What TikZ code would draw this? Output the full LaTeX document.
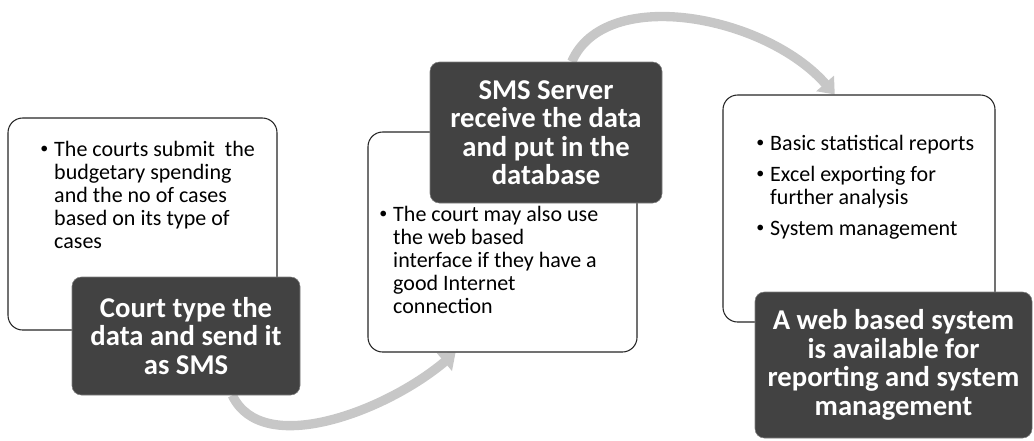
\documentclass[tikz,border=0pt]{standalone}
\usepackage{fontspec}
\setmainfont{Carlito}
\usetikzlibrary{arrows.meta,backgrounds}

\newlength\px
\setlength\px{0.75pt}
\newcommand{\dotmark}{\raisebox{1.6pt}{\fontsize{12}{12}\selectfont\textbullet}}

\begin{document}
\begin{tikzpicture}[x=0.75pt, y=-0.75pt,
    notebox/.style={rectangle, draw=black!85, line width=0.8pt, rounded corners=11pt, fill=white, inner sep=0pt},
    stepbox/.style={rectangle, fill=black!74, draw=black!50, rounded corners=7pt, text=white, align=center, inner sep=0pt, font=\fontsize{21.5}{21.4}\selectfont\bfseries},
    notetext/.style={anchor=base west, inner sep=0pt, font=\fontsize{16.5}{17.25}\selectfont},
    flow/.style={line width=7pt, draw=black!22, -{Triangle[width=17pt,length=11pt]}}]
    \useasboundingbox (0,0) rectangle (1034,440);

    % step 1: the courts
    \node[notebox, minimum width=269*\px, minimum height=212*\px] (courtnote) at (142.5,224) {};
    \node[notetext] (courttext) at (40,156) {\begin{tabular}[t]{@{}l@{\hspace{6\px}}l@{}}
        \dotmark & The courts submit\ \ the\\
        & budgetary spending\\
        & and the no of cases\\
        & based on its type of\\
        & cases
    \end{tabular}};
    \node[stepbox, minimum width=228*\px, minimum height=118*\px] (court) at (186,336) {Court type the\\data and send it\\as SMS};

    % step 2: the sms server
    \node[notebox, minimum width=269*\px, minimum height=220*\px] (servernote) at (502.5,242) {};
    \node[notetext] (servertext) at (379,221) {\begin{tabular}[t]{@{}l@{\hspace{6\px}}l@{}}
        \dotmark & The court may also use\\
        & the web based\\
        & interface if they have a\\
        & good Internet\\
        & connection
    \end{tabular}};
    \node[stepbox, minimum width=232*\px, minimum height=141*\px] (server) at (546,132.5) {SMS Server\\receive the data\\and put in the\\database};

    % step 3: the web system
    \node[notebox, minimum width=272*\px, minimum height=227*\px] (webnote) at (859,208.5) {};
    \node[notetext] (webtext) at (756,150) {\begin{tabular}[t]{@{}l@{\hspace{6\px}}l@{}}
        \dotmark & Basic statistical reports\\[8\px]
        \dotmark & Excel exporting for\\
        & further analysis\\[8\px]
        \dotmark & System management
    \end{tabular}};
    \node[stepbox, minimum width=277*\px, minimum height=146*\px] (web) at (893.5,365) {A web based system\\is available for\\reporting and system\\management};

    \begin{scope}[on background layer]
        \draw[flow] (court.-52) .. controls (262,458) and (385,412) .. (servernote.-113);
        \draw[flow] (server.70) .. controls (605,-15) and (765,15) .. (webnote.102);
    \end{scope}
\end{tikzpicture}
\end{document}
